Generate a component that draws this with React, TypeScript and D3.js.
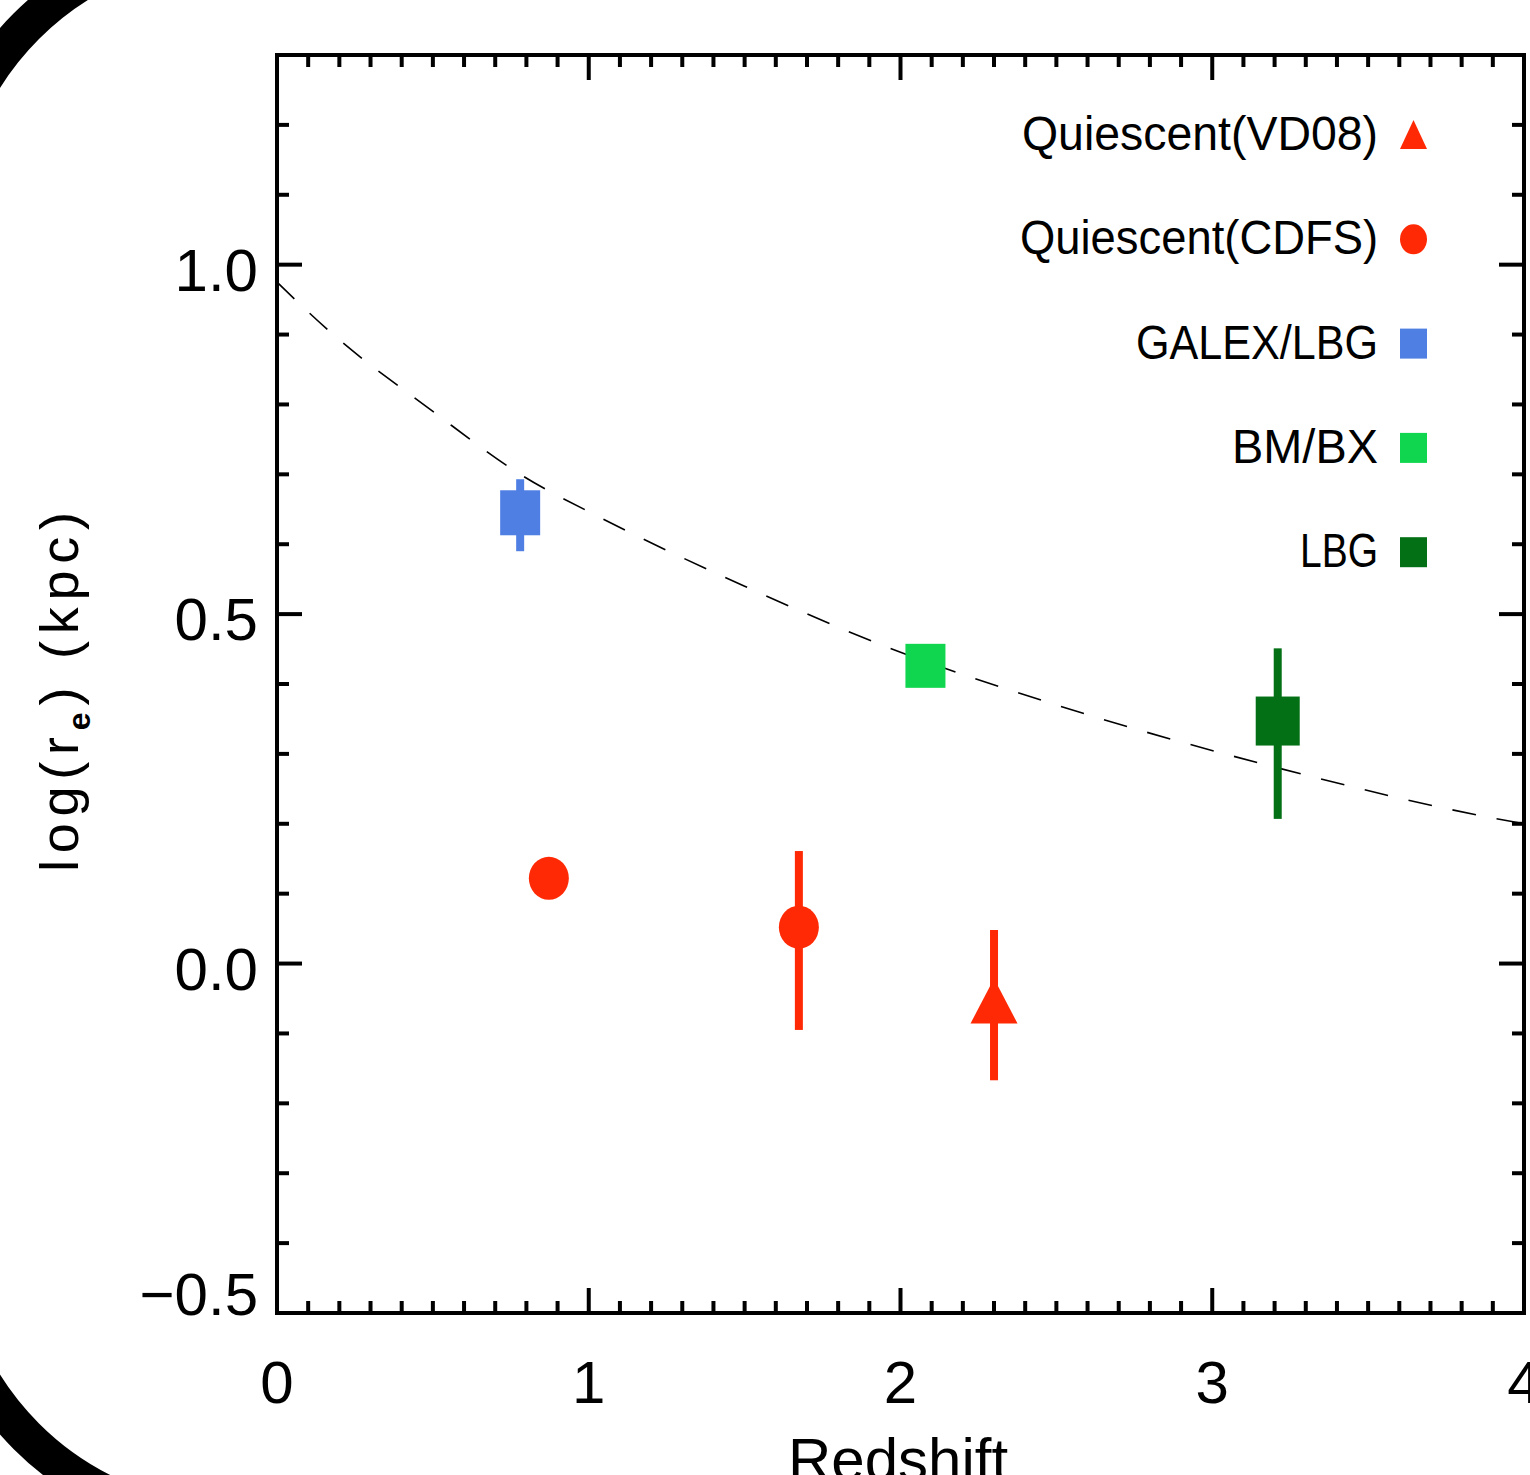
import React from "react";
import * as d3 from "d3";

// ---- data ----
const vd08Z = [2.3];
const vd08LogR = [-0.06];
const vd08ErrLo = [-0.167];
const vd08ErrHi = [0.048];

const cdfsZ = [0.872, 1.674];
const cdfsLogR = [0.122, 0.052];
const cdfsErrLo = [null, -0.095];
const cdfsErrHi = [null, 0.161];

const galexZ = [0.78];
const galexLogR = [0.645];
const galexErrLo = [0.59];
const galexErrHi = [0.693];

const bmbxZ = [2.08];
const bmbxLogR = [0.426];

const lbgZ = [3.21];
const lbgLogR = [0.347];
const lbgErrLo = [0.207];
const lbgErrHi = [0.451];

const modelZ = [0, 0.17, 0.5, 0.78, 1.04, 1.5, 1.95, 2.5, 3.21, 3.88, 4.0];
const modelLogR = [0.975, 0.904, 0.79, 0.7, 0.6375, 0.54, 0.454, 0.37, 0.28, 0.21, 0.2];

const legendLabels = ["Quiescent(VD08)", "Quiescent(CDFS)", "GALEX/LBG", "BM/BX", "LBG"];
const legendSymbols = ["triangle", "circle", "square", "square", "square"];
const legendColors = ["#ff2a05", "#ff2a05", "#4f7fe3", "#0fd54f", "#037015"];
const legendWidths = [356, 358, 242, 146, 78];

const xTickLabels = ["0", "1", "2", "3", "4"];
const yTickLabels = ["\u22120.5", "0.0", "0.5", "1.0"];

const W = 1530;
const H = 1475;
const FONT = "'Liberation Sans', Arial, sans-serif";

export default function App() {
  const x = d3.scaleLinear().domain([0, 4]).range([277, 1524]);
  const y = d3.scaleLinear().domain([-0.5, 1.3]).range([1313, 55]);
  const [x0, x1] = x.range();
  const [y0, y1] = y.range();

  const xMinor = d3.range(1, 40).map((i) => i / 10);
  const yMinor = d3.range(-4, 13).map((i) => i / 10);
  const majLen = 25;
  const minLen = 12;

  const line = d3
    .line<number>()
    .x((_, i) => x(modelZ[i]))
    .y((d) => y(d))
    .curve(d3.curveMonotoneX);

  const errBar = (z: number, lo: number | null, hi: number | null, color: string, key: string) =>
    lo == null || hi == null ? null : (
      <rect key={key} x={x(z) - 4} y={y(hi)} width={8} height={y(lo) - y(hi)} fill={color} />
    );

  const red = legendColors[0];
  const blue = legendColors[2];
  const lgreen = legendColors[3];
  const dgreen = legendColors[4];

  const triangle = (cx: number, cy: number, w: number, up: number, down: number) =>
    `M${cx},${cy - up}L${cx + w / 2},${cy + down}L${cx - w / 2},${cy + down}Z`;

  return (
    <svg
      width={W}
      height={H}
      style={{ position: "absolute", left: 0, top: 0, background: "#fff" }}
      fontFamily={FONT}
    >
      <defs>
        <clipPath id="plotclip">
          <rect x={x0} y={y1} width={x1 - x0} height={y0 - y1} />
        </clipPath>
      </defs>
      {/* slide frame */}
      <rect x={-60} y={-60} width={2400} height={1582.5} rx={294.5} ry={294.5} fill="none" stroke="#000" strokeWidth={36} />

      {/* model curve */}
      <path
        d={line(modelLogR) || ""}
        fill="none"
        stroke="#000"
        strokeWidth={1.6}
        strokeDasharray="24 21"
        clipPath="url(#plotclip)"
      />

      {/* error bars */}
      {vd08Z.map((z, i) => errBar(z, vd08ErrLo[i], vd08ErrHi[i], red, "ve" + i))}
      {cdfsZ.map((z, i) => errBar(z, cdfsErrLo[i], cdfsErrHi[i], red, "ce" + i))}
      {galexZ.map((z, i) => errBar(z, galexErrLo[i], galexErrHi[i], blue, "ge" + i))}
      {lbgZ.map((z, i) => errBar(z, lbgErrLo[i], lbgErrHi[i], dgreen, "le" + i))}

      {/* markers */}
      {vd08Z.map((z, i) => (
        <path key={"v" + i} d={triangle(x(z), y(vd08LogR[i]), 47, 27, 18)} fill={red} />
      ))}
      {cdfsZ.map((z, i) => (
        <ellipse key={"c" + i} cx={x(z)} cy={y(cdfsLogR[i])} rx={20} ry={21.5} fill={red} />
      ))}
      {galexZ.map((z, i) => (
        <rect key={"g" + i} x={x(z) - 20} y={y(galexLogR[i]) - 22.5} width={40} height={45} fill={blue} />
      ))}
      {bmbxZ.map((z, i) => (
        <rect key={"b" + i} x={x(z) - 20} y={y(bmbxLogR[i]) - 22} width={40} height={44} fill={lgreen} />
      ))}
      {lbgZ.map((z, i) => (
        <rect key={"l" + i} x={x(z) - 22} y={y(lbgLogR[i]) - 24.5} width={44} height={49} fill={dgreen} />
      ))}

      {/* axes box */}
      <rect x={x0} y={y1} width={x1 - x0} height={y0 - y1} fill="none" stroke="#000" strokeWidth={4} />
      {xMinor.map((v) => {
        const len = Math.abs(v - Math.round(v)) < 1e-6 ? majLen : minLen;
        return (
          <g key={"xt" + v}>
            <line x1={x(v)} x2={x(v)} y1={y0} y2={y0 - len} stroke="#000" strokeWidth={4} />
            <line x1={x(v)} x2={x(v)} y1={y1} y2={y1 + len} stroke="#000" strokeWidth={4} />
          </g>
        );
      })}
      {yMinor.map((v) => {
        const len = Math.abs(v * 2 - Math.round(v * 2)) < 1e-6 ? majLen : minLen;
        return (
          <g key={"yt" + v}>
            <line x1={x0} x2={x0 + len} y1={y(v)} y2={y(v)} stroke="#000" strokeWidth={4} />
            <line x1={x1} x2={x1 - len} y1={y(v)} y2={y(v)} stroke="#000" strokeWidth={4} />
          </g>
        );
      })}

      {/* tick labels */}
      {xTickLabels.map((t, i) => (
        <text key={"xl" + t} x={x(i)} y={y0 + 90} textAnchor="middle" fontSize={60}>
          {t}
        </text>
      ))}
      {yTickLabels.map((t, i) => {
        const v = -0.5 + i * 0.5;
        const base = i === 0 ? y(v) + 2 : y(v) + 26;
        return (
          <text key={"yl" + i} x={258} y={base} textAnchor="end" fontSize={60}>
            {t}
          </text>
        );
      })}

      {/* axis titles */}
      <text x={898} y={1480} textAnchor="middle" fontSize={60}>
        Redshift
      </text>
      <text
        transform={`translate(78, ${(y0 + y1) / 2 + 8}) rotate(-90)`}
        textAnchor="middle"
        fontSize={54}
        textLength={360}
        lengthAdjust="spacing"
      >
        log(r
        <tspan fontSize={32} fontWeight="bold" dy={12}>
          e
        </tspan>
        <tspan dy={-12}>)  (kpc)</tspan>
      </text>

      {/* legend */}
      {legendLabels.map((lab, i) => {
        const base = 150 + i * 104.3;
        const cy = base - 15;
        const cx = 1413.5;
        const col = legendColors[i];
        const sym = legendSymbols[i];
        return (
          <g key={"lg" + i}>
            <text
              x={1378}
              y={base}
              textAnchor="end"
              fontSize={49}
              textLength={legendWidths[i]}
              lengthAdjust="spacingAndGlyphs"
            >
              {lab}
            </text>
            {sym === "triangle" && <path d={triangle(cx, cy + 1, 27, 16, 13)} fill={col} />}
            {sym === "circle" && <ellipse cx={cx} cy={cy} rx={13.5} ry={15} fill={col} />}
            {sym === "square" && <rect x={cx - 13.5} y={cy - 15} width={27} height={30} fill={col} />}
          </g>
        );
      })}
    </svg>
  );
}
